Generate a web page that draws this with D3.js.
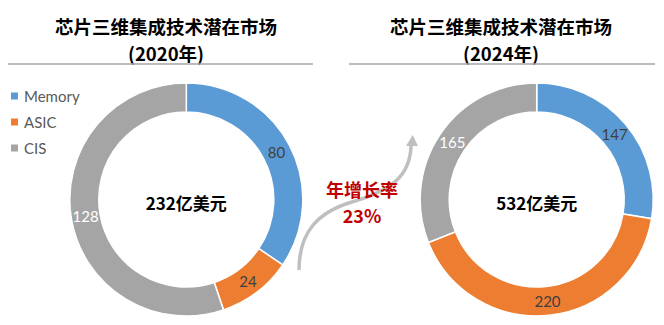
<!DOCTYPE html>
<html>
<head>
<meta charset="utf-8">
<script src="https://cdn.jsdelivr.net/npm/d3@7"></script>
<style>
  html, body { margin: 0; padding: 0; background: #fff; }
  svg { display: block; }
</style>
</head>
<body>
<svg id="chart" width="664" height="325"></svg>
<script>
// Market segments and their sizes (亿美元)
const categories = ["Memory", "ASIC", "CIS"];
const values2020 = [80, 24, 128];
const values2024 = [147, 220, 165];
const years = ["2020年", "2024年"];
const titleText = "芯片三维集成技术潜在市场";
const growthLabel = "年增长率";
const growthRate = "23%";

const colors = d3.scaleOrdinal()
  .domain(categories)
  .range(["#5b9bd5", "#ed7d31", "#a5a5a5"]);
const labelColors = d3.scaleOrdinal()
  .domain(categories)
  .range(["#404040", "#404040", "#ffffff"]);

const svg = d3.select("#chart");
const cjk = "'Noto Sans CJK SC', 'Noto Sans', sans-serif";
const latin = "Lato, 'Open Sans', sans-serif";

const outerR = 116.5, innerR = 87.5;
const pie = d3.pie().sort(null).value(d => d.value);
const arc = d3.arc().innerRadius(innerR).outerRadius(outerR);

const panels = [
  { year: years[0], values: values2020, cx: 186.3, cy: 199.5, titleX: 166, ruleX: [8, 313] },
  { year: years[1], values: values2024, cx: 536.7, cy: 199.5, titleX: 501, ruleX: [349, 655] }
];

panels.forEach(p => {
  // heading with underline
  svg.append("text")
    .attr("x", p.titleX).attr("y", 26)
    .attr("text-anchor", "middle").attr("dominant-baseline", "central")
    .style("font-family", cjk).style("font-weight", 700).style("font-size", "18.5px")
    .attr("fill", "#000").text(titleText);
  svg.append("text")
    .attr("x", p.titleX).attr("y", 53)
    .attr("text-anchor", "middle").attr("dominant-baseline", "central")
    .style("font-family", cjk).style("font-weight", 700).style("font-size", "18.5px")
    .attr("fill", "#000").text("(" + p.year + ")");
  svg.append("line")
    .attr("x1", p.ruleX[0]).attr("x2", p.ruleX[1])
    .attr("y1", 64).attr("y2", 64)
    .attr("stroke", "#a6a6a6").attr("stroke-width", 1.5);

  const data = categories.map((c, i) => ({ cat: c, value: p.values[i] }));
  const g = svg.append("g").attr("transform", `translate(${p.cx},${p.cy})`);
  const arcs = pie(data);

  g.selectAll("path.slice").data(arcs).enter().append("path")
    .attr("class", "slice")
    .attr("d", arc)
    .attr("fill", d => colors(d.data.cat))
    .attr("stroke", "#fff").attr("stroke-width", 1.5);

  g.selectAll("text.val").data(arcs).enter().append("text")
    .attr("class", "val")
    .attr("transform", d => `translate(${arc.centroid(d)})`)
    .attr("text-anchor", "middle").attr("dominant-baseline", "central")
    .style("font-family", latin).style("font-size", "15px")
    .attr("fill", d => labelColors(d.data.cat))
    .text(d => d.data.value);

  const total = d3.sum(p.values);
  g.append("text")
    .attr("x", 0).attr("y", 3)
    .attr("text-anchor", "middle").attr("dominant-baseline", "central")
    .style("font-family", cjk).style("font-weight", 700).style("font-size", "17px")
    .attr("fill", "#000")
    .text(total + "亿美元");
});

// legend
const legend = svg.append("g");
categories.forEach((c, i) => {
  const y = 96 + i * 26;
  legend.append("rect")
    .attr("x", 11).attr("y", y - 3.5).attr("width", 7).attr("height", 7)
    .attr("fill", colors(c));
  legend.append("text")
    .attr("x", 24).attr("y", y)
    .attr("dominant-baseline", "central")
    .style("font-family", latin).style("font-size", "15px")
    .attr("fill", "#595959").text(c);
});

// growth arrow between the two rings
svg.append("path")
  .attr("d", "M299,270 C299,232 318,212 352,202 C392,190 410,176 411,146")
  .attr("fill", "none").attr("stroke", "#bfbfbf").attr("stroke-width", 3.5);
svg.append("path")
  .attr("d", "M412.7,135 L418,146 L406,146 Z")
  .attr("fill", "#bfbfbf");

svg.append("text")
  .attr("x", 362).attr("y", 189)
  .attr("text-anchor", "middle").attr("dominant-baseline", "central")
  .style("font-family", cjk).style("font-weight", 700).style("font-size", "18px")
  .attr("fill", "#c00000").text(growthLabel);
svg.append("text")
  .attr("x", 362).attr("y", 215)
  .attr("text-anchor", "middle").attr("dominant-baseline", "central")
  .style("font-family", cjk).style("font-weight", 700).style("font-size", "18px")
  .attr("fill", "#c00000").text(growthRate);
</script>
</body>
</html>
